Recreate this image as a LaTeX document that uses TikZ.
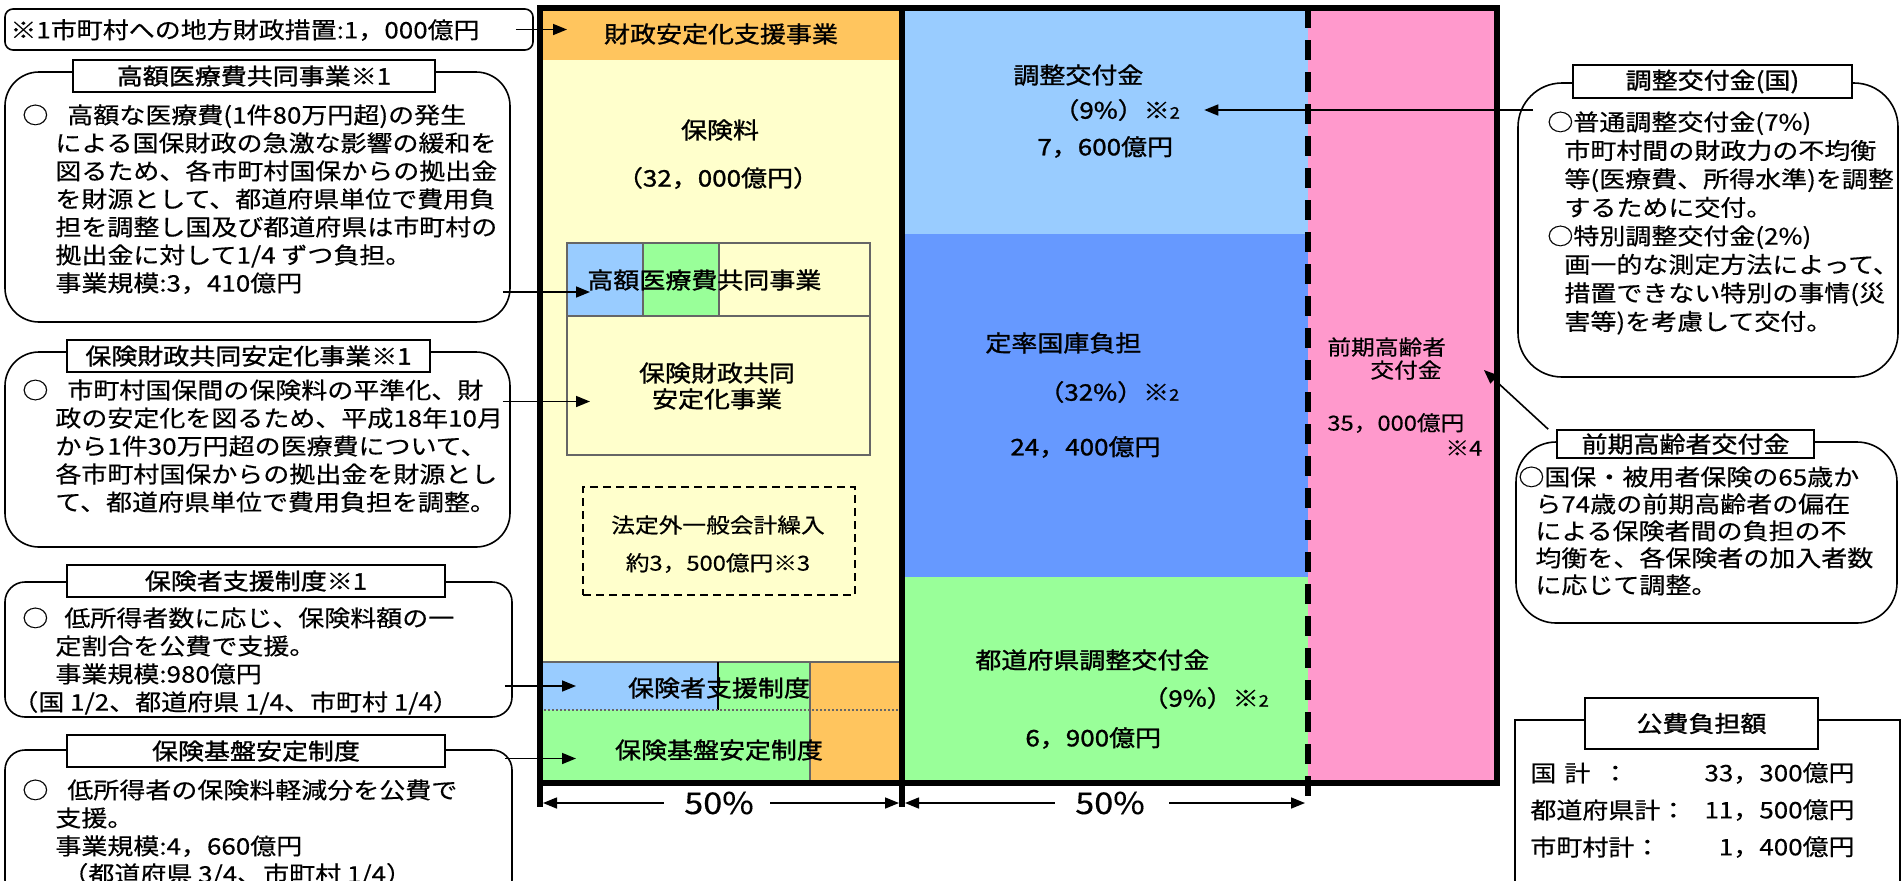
\documentclass[tikz,border=0pt]{standalone}
\usepackage{fontspec}
\setmainfont{Noto Sans CJK JP}[FakeStretch=1.14, FakeBold=0.4]
\newfontfamily\boldjp{Noto Sans CJK JP}[FakeStretch=1.14, FakeBold=1.2]
\usetikzlibrary{arrows.meta,fit,positioning}

\definecolor{bandorange}{RGB}{255,197,94}
\definecolor{premcream}{RGB}{255,255,204}
\definecolor{adjblue}{RGB}{153,204,255}
\definecolor{natblue}{RGB}{102,153,255}
\definecolor{prefgreen}{RGB}{153,255,153}
\definecolor{elderpink}{RGB}{255,153,204}

\newcommand{\jtext}{\fontsize{11.4}{14}\selectfont}
\newcommand{\jhead}{\boldjp\fontsize{11.4}{14}\selectfont}
\newcommand{\jsmall}{\fontsize{10.4}{13}\selectfont}
\newcommand{\jbig}{\fontsize{15}{18}\selectfont}
\newcommand{\kome}[1]{※{\fontsize{8}{8}\selectfont #1}}
\newcommand{\ind}{\hspace*{16.5pt}}
\newcommand{\rind}{\hspace*{8.5pt}}

\tikzset{cell/.style={inner sep=0pt, outer sep=0pt},
         lbl/.style={inner sep=0pt, font=\jhead},
         plain/.style={inner sep=0pt, font=\jtext},
         body/.style={inner sep=0pt, align=left, anchor=north west, font=\jtext},
         hdr/.style={draw, fill=white, line width=0.8pt, inner sep=0pt},
         rbox/.style={draw, line width=0.8pt, rounded corners=#1, inner sep=0pt},
         arr/.style={-{Triangle[length=7pt,width=5.5pt]}, line width=0.8pt},
         thickframe/.style={line width=2.8pt},
         gridline/.style={draw=black!60, line width=0.6pt}}

\begin{document}
\begin{tikzpicture}[x=0.5pt, y=-0.5pt]
\useasboundingbox (0,0) rectangle (1901,880);

% left notes
\node[draw, line width=0.8pt, rounded corners=4pt, inner sep=0pt, fit={(5,9) (533,50)}] (note) {};
\node[plain, anchor=west] (notetxt) at (10,30) {※1市町村への地方財政措置:1，000億円};

\node[rbox=17pt, fit={(5,72) (510,322)}] (b1) {};
\node[hdr, fit={(73,60) (435,92)}] (b1h) {};
\node[lbl] at (b1h.center) {高額医療費共同事業※1};
\node[body] (b1t) at (22,104) {○\hspace{9.5pt}高額な医療費(1件80万円超)の発生\\
\ind による国保財政の急激な影響の緩和を\\
\ind 図るため、各市町村国保からの拠出金\\
\ind を財源として、都道府県単位で費用負\\
\ind 担を調整し国及び都道府県は市町村の\\
\ind 拠出金に対して1/4 ずつ負担。\\
\ind 事業規模:3，410億円};

\node[rbox=17pt, fit={(5,352) (510,547)}] (b2) {};
\node[hdr, fit={(67,340) (430,372)}] (b2h) {};
\node[lbl] at (b2h.center) {保険財政共同安定化事業※1};
\node[body] (b2t) at (22,379) {○\hspace{9.5pt}市町村国保間の保険料の平準化、財\\
\ind 政の安定化を図るため、平成18年10月\\
\ind から1件30万円超の医療費について、\\
\ind 各市町村国保からの拠出金を財源とし\\
\ind て、都道府県単位で費用負担を調整。};

\node[rbox=10pt, fit={(5,582) (512,717)}] (b3) {};
\node[hdr, fit={(67,565) (445,597)}] (b3h) {};
\node[lbl] at (b3h.center) {保険者支援制度※1};
\node[body] (b3t) at (22,607) {○\hspace{8pt}低所得者数に応じ、保険料額の一\\
\ind 定割合を公費で支援。\\
\ind 事業規模:980億円\\
\hspace*{-5pt}（国 1/2、都道府県 1/4、市町村 1/4）};

\node[rbox=10pt, fit={(5,750) (512,900)}] (b4) {};
\node[hdr, fit={(67,735) (445,767)}] (b4h) {};
\node[lbl] at (b4h.center) {保険基盤安定制度};
\node[body] (b4t) at (22,779) {○\hspace{9.5pt}低所得者の保険料軽減分を公費で\\
\ind 支援。\\
\ind 事業規模:4，660億円\\
\hspace*{20pt}（都道府県 3/4、市町村 1/4）};

% main columns
\coordinate (fnw) at (540,8);
\coordinate (fse) at (1497,783);
\coordinate (cdiv) at (902,8);
\coordinate (cdash) at (1308,8);
\coordinate (dimbase) at (0,807);

\node[cell, fill=bandorange, fit={(540,8) (902,60)}] (fsband) {};
\node[cell, fill=premcream, fit={(540,60) (902,662)}] (prembox) {};
\node[cell, fill=adjblue, fit={(902,8) (1308,234)}] (adjbox) {};
\node[cell, fill=natblue, fit={(902,234) (1308,577)}] (natbox) {};
\node[cell, fill=prefgreen, fit={(902,577) (1308,783)}] (prefbox) {};
\node[cell, fill=elderpink, fit={(1308,8) (1497,783)}] (eldbox) {};

\node[cell, gridline, fill=adjblue, fit={(567,243) (643,316)}] (kblue) {};
\node[cell, gridline, fill=prefgreen, fit={(643,243) (719,316)}] (kgreen) {};
\node[cell, gridline, fill=premcream, fit={(719,243) (870,316)}] (kcream) {};
\node[cell, gridline, fill=premcream, fit={(567,316) (870,455)}] (ksf) {};
\node[cell, draw, line width=0.6pt, dash pattern=on 4pt off 2.5pt, fit={(583,487) (855,595)}] (extra) {};

\node[cell, fill=adjblue, fit={(540,662) (718,710)}] (sblue) {};
\node[cell, fill=prefgreen, fit={(718,662) (810,710)}] (sgreentop) {};
\node[cell, fill=bandorange, fit={(810,662) (902,783)}] (sorange) {};
\node[cell, fill=prefgreen, fit={(540,710) (810,783)}] (sgreen) {};
\draw[gridline] (sblue.north west) -- (sorange.north east);
\draw[black, line width=0.6pt] (sblue.north east) -- (sblue.south east);
\draw[gridline] (sorange.north west) -- (sorange.south west);
\draw[black!60, line width=0.6pt, dash pattern=on 1pt off 1pt] (sgreen.north west) -- (sorange.east |- sgreen.north);

\node[lbl] (fslbl) at (fsband.center) {財政安定化支援事業};
\node[lbl] (prem) at (720,130) {保険料};
\node[lbl] (premamt) at (718,178) {（32，000億円）};
\node[lbl, anchor=west] (kgaku) at (587,280) {高額医療費共同事業};
\node[lbl, align=center, font=\boldjp\fontsize{11.4}{13}\selectfont] (ksflbl) at (717,386) {保険財政共同\\安定化事業};
\node[plain, font=\jsmall] (extra1) at (718,525) {法定外一般会計繰入};
\node[plain, font=\jsmall] (extra2) at (718,563) {約3，500億円※3};
\node[lbl] (hsup) at (719,688) {保険者支援制度};
\node[lbl] (hbase) at (719,750) {保険基盤安定制度};

\node[lbl, anchor=west] (adj) at (1013,75) {調整交付金};
\node[lbl, anchor=west] (adjpct) at (1053,110) {（9\%）\kome{2}};
\node[lbl, anchor=west] (adjamt) at (1037,147) {7，600億円};
\node[lbl, anchor=west] (nat) at (985,343) {定率国庫負担};
\node[lbl, anchor=west] (natpct) at (1038,392) {（32\%）\kome{2}};
\node[lbl, anchor=west] (natamt) at (1010,447) {24，400億円};
\node[lbl, anchor=west] (pref) at (975,660) {都道府県調整交付金};
\node[lbl, anchor=west] (prefpct) at (1142,698) {（9\%）\kome{2}};
\node[lbl, anchor=west] (prefamt) at (1025,738) {6，900億円};

\node[plain, font=\jsmall, anchor=west] (eld1) at (1327,347) {前期高齢者};
\node[plain, font=\jsmall, anchor=west] (eld2) at (1370,370) {交付金};
\node[plain, font=\jsmall, anchor=west] (eldamt) at (1327,423) {35，000億円};
\node[plain, font=\jsmall, anchor=west] (eldnote) at (1445,448) {※4};

\draw[thickframe] (fnw) rectangle (fse);
\draw[thickframe] (fnw |- fse) -- (fnw |- dimbase);
\draw[thickframe] (cdiv) -- (cdiv |- dimbase);
\draw[thickframe, dash pattern=on 10pt off 6pt] (cdash) -- (cdash |- dimbase);

\node[plain, font=\jbig] (half1) at (719,803) {50\%};
\node[plain, font=\jbig] (half2) at (1110,803) {50\%};
\draw[arr] ([xshift=-10pt]half1.west) -- ([xshift=1.5pt]half1.west -| fnw);
\draw[arr] ([xshift=8pt]half1.east) -- ([xshift=-1.5pt]half1.east -| cdiv);
\draw[arr] ([xshift=-10pt]half2.west) -- ([xshift=1.5pt]half2.west -| cdiv);
\draw[arr] ([xshift=12pt]half2.east) -- ([xshift=-1.5pt]half2.east -| cdash);

% right notes
\node[rbox=22pt, fit={(1518,83) (1898,377)}] (r1) {};
\node[hdr, fit={(1573,65) (1852,98)}] (r1h) {};
\node[lbl] at (r1h.center) {調整交付金(国)};
\node[body, font=\fontsize{11.4}{14.25}\selectfont] (r1t) at (1547,111) {○普通調整交付金(7\%)\\
\rind 市町村間の財政力の不均衡\\
\rind 等(医療費、所得水準)を調整\\
\rind するために交付。\\
○特別調整交付金(2\%)\\
\rind 画一的な測定方法によって、\\
\rind 措置できない特別の事情(災\\
\rind 害等)を考慮して交付。};

\node[rbox=20pt, fit={(1516,442) (1897,623)}] (r2) {};
\node[hdr, fit={(1557,430) (1814,458)}] (r2h) {};
\node[lbl] at (r2h.center) {前期高齢者交付金};
\node[body, font=\fontsize{11.4}{13.5}\selectfont] (r2t) at (1518,466) {○国保・被用者保険の65歳か\\
\rind ら74歳の前期高齢者の偏在\\
\rind による保険者間の負担の不\\
\rind 均衡を、各保険者の加入者数\\
\rind に応じて調整。};

\node[draw, line width=0.8pt, inner sep=0pt, fit={(1515,720) (1900,900)}] (r3) {};
\node[hdr, fit={(1585,698) (1818,749)}] (r3h) {};
\node[lbl] at (r3h.center) {公費負担額};
\node[plain, anchor=west] (r3a) at (1530,773) {国\hspace{4pt}計\hspace{6pt}：};
\node[plain, anchor=east] (r3av) at (1855,773) {33，300億円};
\node[plain, anchor=west] (r3b) at (1530,810) {都道府県計：};
\node[plain, anchor=east] (r3bv) at (1855,810) {11，500億円};
\node[plain, anchor=west] (r3c) at (1530,847) {市町村計：};
\node[plain, anchor=east] (r3cv) at (1855,847) {1，400億円};

% connectors
\coordinate (k1) at ([yshift=12pt]kblue.south west);
\coordinate (k2) at ([yshift=-8pt]ksf.west);
\coordinate (k4) at ([yshift=-6pt]sgreen.west);
\draw[arr] ([xshift=-9pt]note.east) -- ([xshift=13.5pt]fsband.west |- note.east);
\draw[arr] ([xshift=-4pt]b1.east |- k1) -- ([xshift=11.5pt]k1);
\draw[arr] ([xshift=-4pt]b2.east |- k2) -- ([xshift=11.5pt]k2);
\draw[arr] ([xshift=-4pt]b3.east |- sblue.west) -- ([xshift=18pt]sblue.west);
\draw[arr] ([xshift=-4pt]b4.east |- k4) -- ([xshift=18pt]k4);
\draw[arr] ([xshift=8pt]r1.west |- adjpct.east) -- ([xshift=12pt]adjpct.east);
\draw[arr] ([xshift=-4pt]r2h.north west) -- ([xshift=21pt]eld2.east);
\end{tikzpicture}
\end{document}
